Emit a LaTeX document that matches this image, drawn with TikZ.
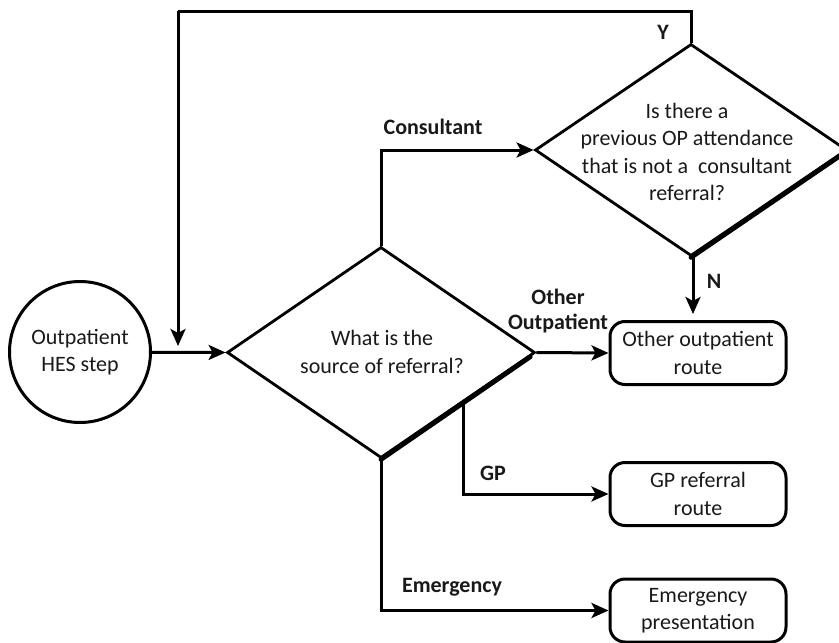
\documentclass[tikz,border=0pt]{standalone}
\usepackage{fontspec}
\setmainfont{Carlito}
\usetikzlibrary{shapes.geometric,arrows.meta,calc}
\begin{document}
\begin{tikzpicture}[x=1pt,y=-1pt,
  every node/.style={font=\fontsize{22}{27.5}\selectfont, text=black!90},
  lbl/.style={font=\fontsize{22}{25}\selectfont\bfseries, align=center},
  txt/.style={align=center, inner sep=0pt},
  dia/.style={draw, diamond, line width=2.8pt, minimum width=#1, inner sep=0pt},
  dia/.default=300pt,
  box/.style={draw, rounded corners=15pt, line width=3pt, minimum width=176pt, minimum height=63pt, align=center, inner sep=2pt},
  conn/.style={line width=3pt},
  arr/.style={conn, -{Stealth[length=17pt,width=15pt,inset=4pt]}},
  shadowedge/.style={line width=4.8pt, line cap=round}
]
\useasboundingbox (0,0) rectangle (839,643);

% nodes
\node[draw, circle, line width=3pt, minimum size=141pt, inner sep=0pt, align=center] (start) at (80,352) {Outpatient\\HES step};

\node[dia=308pt, minimum height=211pt] (d1) at (381,352.5) {};
\node[txt] at (382,352) {What is the\\source of referral?};

\node[dia=312pt, minimum height=212pt] (d2) at (691,150) {};
\node[txt] at (687,152) {Is there a\\previous OP attendance\\that is not a\ \ consultant\\referral?};

\node[box] (b1) at (698,353) {Other outpatient\\route};
\node[box] (b2) at (698,494) {GP referral\\route};
\node[box] (b3) at (698,610.5) {Emergency\\presentation};

% shadow-like thick lower-right edges
\draw[shadowedge] ($(d1.east)!0.04!(d1.south)$) -- (d1.south);
\draw[shadowedge] ($(d2.east)!0.04!(d2.south)$) -- (d2.south);

% coordinates
\coordinate (looptop) at (178,11);
\coordinate (yend) at (178,346);
\coordinate (gpstart) at ($(d1.east)!0.47!(d1.south)$);

% connectors
\draw[arr] (start) -- (d1.west);
\draw[arr] (d1.north) |- (d2.west);
\draw[conn] (d2.north) |- (looptop);
\draw[arr] (looptop) -- (yend);
\draw[arr] (d2.south -| 693,0) -- (693,314);
\draw[arr] (d1.east) -- (b1.west);
\draw[arr] (gpstart) |- (b2.west);
\draw[arr] (d1.south) |- (b3.west);

% labels
\node[lbl] at (433,127) {Consultant};
\node[lbl] at (663,32) {Y};
\node[lbl] at (714,281) {N};
\node[lbl] at (558,297) {Other};
\node[lbl] at (558,323) {Outpatient};
\node[lbl] at (493,473) {GP};
\node[lbl] at (452,587) {Emergency};
\end{tikzpicture}
\end{document}
